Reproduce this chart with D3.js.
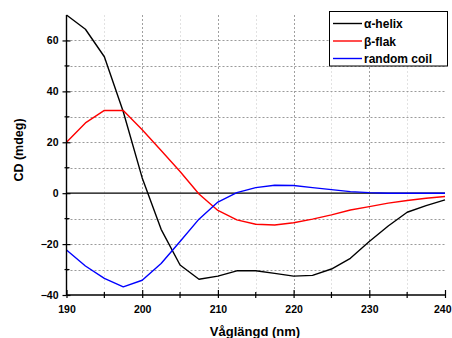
<!DOCTYPE html>
<html><head><meta charset="utf-8">
<script src="https://cdn.jsdelivr.net/npm/d3@7"></script>
<style>
html,body{margin:0;padding:0;background:#fff;}
svg{display:block;font-family:Arial,"Liberation Sans",sans-serif;}
</style></head>
<body>
<svg id="c" width="452" height="338"></svg>
<script>
const wavelengths = [190,192.5,195,197.5,200,202.5,205,207.5,210,212.5,215,217.5,220,222.5,225,227.5,230,232.5,235,237.5,240];
const alphaHelix = [70,64.4,53.6,32,6,-14.2,-28.2,-33.8,-32.6,-30.5,-30.5,-31.5,-32.6,-32.3,-29.8,-25.6,-19,-12.9,-7.5,-4.9,-2.6];
const betaFlak = [20,27.6,32.5,32.5,24.9,16.8,8.5,-0.3,-6.8,-10.5,-12.2,-12.5,-11.6,-10.2,-8.5,-6.6,-5.3,-3.9,-2.9,-2.0,-1.3];
const randomCoil = [-22.3,-28.6,-33.5,-36.8,-34.2,-27.6,-19,-10.2,-3.5,0.2,2.2,3.1,3.0,2.2,1.4,0.6,0.2,0,0,0,0];
const seriesNames = ["α-helix","β-flak","random coil"];
const seriesColors = ["#000000","#ff0000","#0000ff"];
const xMajorTicks = [190,200,210,220,230,240];
const xMinorTicks = [195,205,215,225,235];
const yMajorTicks = [-40,-20,0,20,40,60];
const yMinorTicks = [-30,-10,10,30,50];
const xTitle = "Våglängd (nm)";
const yTitle = "CD (mdeg)";

const svg = d3.select("#c");
const W = 452;
const x = d3.scaleLinear().domain([190,240]).range([66.5,445]);
const y = d3.scaleLinear().domain([-40,70]).range([295,15]);

// grid
const g = svg.append("g");
g.selectAll(".vmin").data(xMinorTicks).join("line")
  .attr("x1",d=>Math.round(x(d))+0.5).attr("x2",d=>Math.round(x(d))+0.5).attr("y1",y(70)).attr("y2",y(-40))
  .attr("stroke","#e2e2e2").attr("stroke-width",1).attr("stroke-dasharray","2,2");
g.selectAll(".vmaj").data(xMajorTicks.slice(1,-1)).join("line")
  .attr("x1",d=>Math.round(x(d))+0.5).attr("x2",d=>Math.round(x(d))+0.5).attr("y1",y(70)).attr("y2",y(-40))
  .attr("stroke","#a0a0a0").attr("stroke-width",1).attr("stroke-dasharray","2,2");
g.selectAll(".h").data([...yMajorTicks,...yMinorTicks].filter(d=>d!==0 && d!==-40)).join("line")
  .attr("x1",x(190)).attr("x2",x(240)).attr("y1",d=>Math.round(y(d))+0.5).attr("y2",d=>Math.round(y(d))+0.5)
  .attr("stroke","#9a9a9a").attr("stroke-width",1).attr("stroke-dasharray","2,2");

// zero line
svg.append("line").attr("x1",x(190)).attr("x2",x(240)).attr("y1",y(0)).attr("y2",y(0))
  .attr("stroke","#000").attr("stroke-width",1.2);

// series
const series = [alphaHelix, betaFlak, randomCoil];
const line = d3.line().x((d,i)=>x(wavelengths[i])).y(d=>y(d));
series.forEach((s,k)=>{
  svg.append("path").datum(s).attr("d",line).attr("fill","none")
    .attr("stroke",seriesColors[k]).attr("stroke-width",1.4).attr("stroke-linejoin","round");
});

// axes
const yAxis = svg.append("g").attr("transform",`translate(${x(190)},0)`)
  .call(d3.axisLeft(y).tickValues(yMajorTicks).tickSize(4).tickPadding(4).tickFormat(d3.format("d")));
yAxis.selectAll(".tick line").clone().attr("x2",4);
svg.append("g").attr("transform",`translate(${x(190)},0)`).selectAll("line").data(yMinorTicks).join("line")
  .attr("x1",-2).attr("x2",3).attr("y1",d=>y(d)).attr("y2",d=>y(d)).attr("stroke","#000").attr("stroke-width",1.2);
yAxis.select(".domain").attr("d",`M0,${y(70)}V${y(-40)}`).attr("stroke-width",1.4);

const xAxis = svg.append("g").attr("transform",`translate(0,${y(-40)})`)
  .call(d3.axisBottom(x).tickValues(xMajorTicks).tickSize(3).tickPadding(8).tickFormat(d3.format("d")));
xAxis.selectAll(".tick line").clone().attr("y2",-5);
svg.append("g").attr("transform",`translate(0,${y(-40)})`).selectAll("line").data(xMinorTicks).join("line")
  .attr("x1",d=>x(d)).attr("x2",d=>x(d)).attr("y1",-3).attr("y2",3).attr("stroke","#000").attr("stroke-width",1.2);
xAxis.select(".domain").attr("d",`M${x(190)},0H${x(240)}`).attr("stroke-width",1.4);

svg.selectAll(".tick line").attr("stroke-width",1.2);
svg.selectAll(".tick text").attr("font-size","10.5px").attr("font-weight","bold").attr("fill","#000")
  .attr("font-family","Arial, 'Liberation Sans', sans-serif");
// keep the last x label inside the picture
xAxis.selectAll(".tick text").each(function(){
  const b = this.getBBox(); const tx = x(+d3.select(this.parentNode).datum());
  if (tx + b.x + b.width > W - 1) d3.select(this).attr("text-anchor","end").attr("x", W - 1 - tx);
});

// titles
svg.append("text").attr("x",255).attr("y",336).attr("text-anchor","middle")
  .attr("font-size","13px").attr("font-weight","bold").text(xTitle);
svg.append("text").attr("transform",`translate(23,150) rotate(-90)`).attr("text-anchor","middle")
  .attr("font-size","12.5px").attr("font-weight","bold").text(yTitle);

// legend
const lg = svg.append("g");
lg.append("rect").attr("x",329.5).attr("y",11.5).attr("width",118).attr("height",54.5)
  .attr("fill","#fff").attr("stroke","#000").attr("stroke-width",1);
seriesNames.forEach((n,k)=>{
  const yy = 23.5 + k*17.5;
  lg.append("line").attr("x1",333).attr("x2",362).attr("y1",yy).attr("y2",yy)
    .attr("stroke",seriesColors[k]).attr("stroke-width",1.4);
  lg.append("text").attr("x",364).attr("y",yy+4.5).attr("font-size","12px").attr("font-weight","bold").text(n);
});
</script>
</body></html>
